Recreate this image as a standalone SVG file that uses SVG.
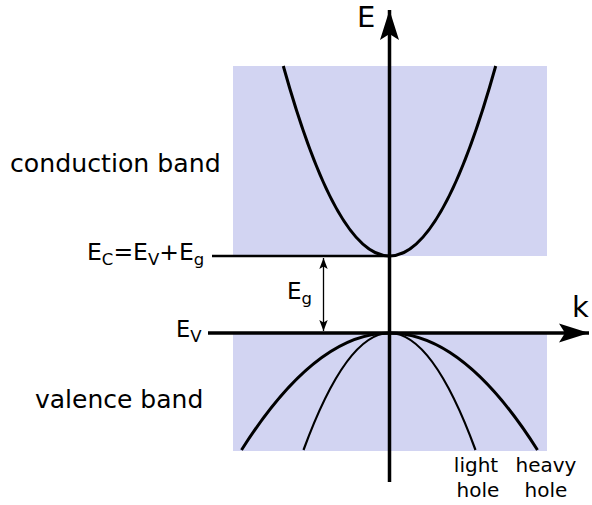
<svg xmlns="http://www.w3.org/2000/svg" width="592" height="505" viewBox="0 0 592 505">
<style>
text{font-family:"DejaVu Sans","Liberation Sans",sans-serif;fill:#000}
.band{fill:#d2d4f2;stroke:none}
.ax{stroke:#000;stroke-width:3.5;fill:none}
.ln{stroke:#000;stroke-width:2.5;fill:none}
.cv{stroke:#000;stroke-width:3;fill:none}
.cv2{stroke:#000;stroke-width:2.2;fill:none}
.thin{stroke:#000;stroke-width:1.3;fill:none}
</style>
<defs>
<marker id="big" markerWidth="34" markerHeight="22" viewBox="0 0 34 22" refX="30" refY="11" orient="auto" markerUnits="userSpaceOnUse">
<path d="M30,11 L0,1.5 L6,11 L0,20.5 Z" fill="#000"/>
</marker>
<marker id="sm" markerWidth="12" markerHeight="10" viewBox="0 0 12 10" refX="11" refY="5" orient="auto-start-reverse" markerUnits="userSpaceOnUse">
<path d="M11,5 L0,0.8 L2.5,5 L0,9.2 Z" fill="#000"/>
</marker>
</defs>
<g id="conduction-band"><rect class="band" x="233" y="66" width="314" height="190"/></g>
<g id="valence-band"><rect class="band" x="233" y="333" width="314" height="118"/></g>
<g id="curves">
<path id="conduction" class="cv" d="M283.3,66 Q389.5,446 495.7,66"/>
<path id="heavy" class="cv" d="M241.5,450 Q389.5,216 537.5,450"/>
<path id="light" class="cv2" d="M303.5,450 Q389.5,216 475.5,450"/>
</g>
<g id="connectors">
<line class="ln" x1="212" y1="256" x2="389.5" y2="256"/>
<line class="ax" x1="389.5" y1="482" x2="389.5" y2="10" marker-end="url(#big)"/>
<line class="ax" x1="208" y1="333" x2="589" y2="333" marker-end="url(#big)"/>
<line class="thin" x1="323.5" y1="258" x2="323.5" y2="331" marker-start="url(#sm)" marker-end="url(#sm)"/>
</g>
<g id="labels">
<text x="357" y="27" font-size="29">E</text>
<text x="572" y="317" font-size="29">k</text>
<text x="10" y="172" font-size="25.2">conduction band</text>
<text x="35" y="408" font-size="25">valence band</text>
<text x="87" y="260" font-size="23.5">E<tspan font-size="16.5" dy="5">C</tspan><tspan dy="-5">=E</tspan><tspan font-size="16.5" dy="5">V</tspan><tspan dy="-5">+E</tspan><tspan font-size="16.5" dy="5">g</tspan></text>
<text x="176" y="337" font-size="22.5">E<tspan font-size="16.5" dy="5">V</tspan></text>
<text x="287" y="299" font-size="23">E<tspan font-size="16.5" dy="5">g</tspan></text>
<text x="476" y="472" font-size="20" text-anchor="middle">light</text>
<text x="478" y="497" font-size="20" text-anchor="middle">hole</text>
<text x="546" y="472" font-size="20" text-anchor="middle">heavy</text>
<text x="546" y="497" font-size="20" text-anchor="middle">hole</text>
</g>
</svg>
